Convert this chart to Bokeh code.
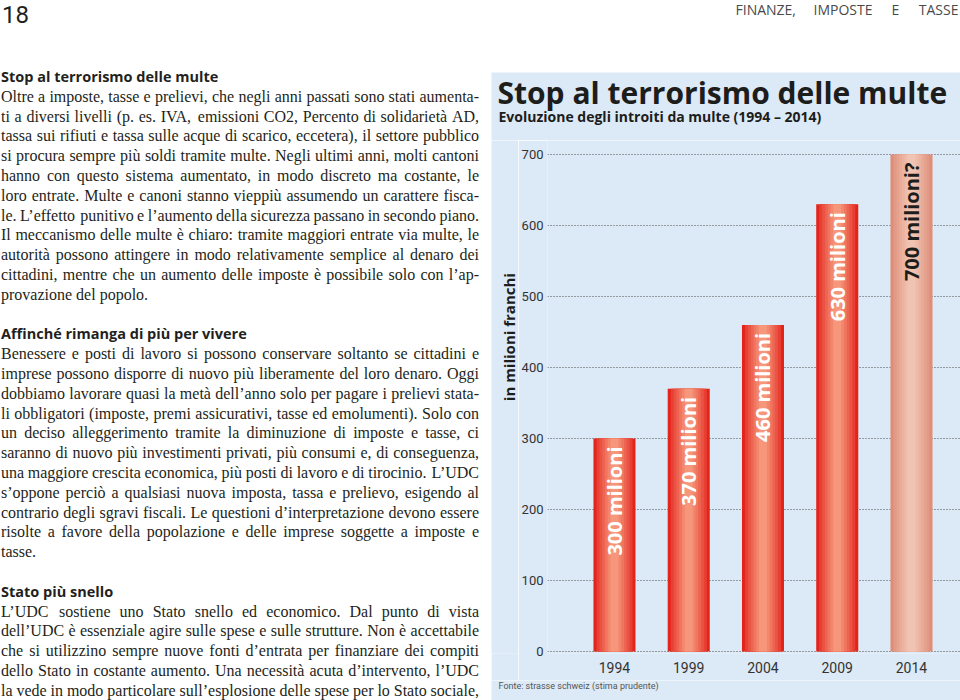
import math
from bokeh.plotting import figure
from bokeh.models import ColumnDataSource, Range1d, FixedTicker
from bokeh.layouts import row, column
from bokeh.core.properties import value
from bokeh.embed import file_html
from bokeh.resources import INLINE

# ---------------- chart data ----------------
years = [1994, 1999, 2004, 2009, 2014]
year_labels = ["1994", "1999", "2004", "2009", "2014"]
values = [300, 370, 460, 630, 700]
projected = [False, False, False, False, True]
bar_labels = ["300 milioni", "370 milioni", "460 milioni", "630 milioni", "700 milioni?"]
y_ticks = [0, 100, 200, 300, 400, 500, 600, 700]

chart_title = "Stop al terrorismo delle multe"
chart_subtitle = "Evoluzione degli introiti da multe (1994 – 2014)"
y_axis_label = "in milioni franchi"
source_note = "Fonte: strasse schweiz (stima prudente)"

page_number = "18"
section_words = ["FINANZE,", "IMPOSTE", "E", "TASSE"]

# ---------------- article text ----------------
sections = [
    ("Stop al terrorismo delle multe", [
        "Oltre a imposte, tasse e prelievi, che negli anni passati sono stati aumenta-",
        "ti a diversi livelli (p. es. IVA, emissioni CO2, Percento di solidarietà AD,",
        "tassa sui rifiuti e tassa sulle acque di scarico, eccetera), il settore pubblico",
        "si procura sempre più soldi tramite multe. Negli ultimi anni, molti cantoni",
        "hanno con questo sistema aumentato, in modo discreto ma costante, le",
        "loro entrate. Multe e canoni stanno vieppiù assumendo un carattere fisca-",
        "le. L’effetto punitivo e l’aumento della sicurezza passano in secondo piano.",
        "Il meccanismo delle multe è chiaro: tramite maggiori entrate via multe, le",
        "autorità possono attingere in modo relativamente semplice al denaro dei",
        "cittadini, mentre che un aumento delle imposte è possibile solo con l’ap-",
        "provazione del popolo.",
    ], True),
    ("Affinché rimanga di più per vivere", [
        "Benessere e posti di lavoro si possono conservare soltanto se cittadini e",
        "imprese possono disporre di nuovo più liberamente del loro denaro. Oggi",
        "dobbiamo lavorare quasi la metà dell’anno solo per pagare i prelievi stata-",
        "li obbligatori (imposte, premi assicurativi, tasse ed emolumenti). Solo con",
        "un deciso alleggerimento tramite la diminuzione di imposte e tasse, ci",
        "saranno di nuovo più investimenti privati, più consumi e, di conseguenza,",
        "una maggiore crescita economica, più posti di lavoro e di tirocinio. L’UDC",
        "s’oppone perciò a qualsiasi nuova imposta, tassa e prelievo, esigendo al",
        "contrario degli sgravi fiscali. Le questioni d’interpretazione devono essere",
        "risolte a favore della popolazione e delle imprese soggette a imposte e",
        "tasse.",
    ], True),
    ("Stato più snello", [
        "L’UDC sostiene uno Stato snello ed economico. Dal punto di vista",
        "dell’UDC è essenziale agire sulle spese e sulle strutture. Non è accettabile",
        "che si utilizzino sempre nuove fonti d’entrata per finanziare dei compiti",
        "dello Stato in costante aumento. Una necessità acuta d’intervento, l’UDC",
        "la vede in modo particolare sull’esplosione delle spese per lo Stato sociale,",
    ], False),
]

# ---------------- styles ----------------
BG = "#dce9f6"
INK = "#231f20"
DARK = "#1d1d1b"
SANS = "Open Sans"
NARROW = "Roboto"
SERIF = "Liberation Serif"

# Times-compatible advance widths (1/1000 em) used for justification
TW = {' ': 250, '.': 250, ',': 250, ':': 278, ';': 278, '-': 333, '(': 333, ')': 333,
      '’': 333, "'": 180, '?': 444, '!': 333}
TW.update(dict(zip("abcdefghijklmnopqrstuvwxyz",
                   [444, 500, 444, 500, 444, 333, 500, 500, 278, 278, 500, 278, 778,
                    500, 500, 500, 500, 333, 389, 278, 500, 500, 722, 500, 500, 444])))
TW.update(dict(zip("ABCDEFGHIJKLMNOPQRSTUVWXYZ",
                   [722, 667, 667, 722, 611, 556, 722, 722, 333, 389, 722, 611, 889,
                    722, 722, 556, 722, 667, 556, 611, 722, 722, 944, 722, 722, 611])))
TW.update({d: 500 for d in "0123456789"})
TW.update({'à': 444, 'è': 444, 'é': 444, 'ì': 278, 'ò': 500, 'ù': 500})


def tw(s, fs):
    return sum(TW.get(ch, 500) for ch in s) * fs / 1000.0


FS = 16.0
COL_X = 0.5
COL_W = 478.0
LINE0 = 76.0
LEAD = 19.8


def page_fig(x0, x1, y0, y1, fill):
    f = figure(width=x1 - x0, height=y1 - y0, output_backend="svg", toolbar_location=None,
               x_range=Range1d(x0, x1), y_range=Range1d(y1, y0), title=None,
               min_border=0, x_axis_location=None, y_axis_location=None,
               outline_line_color=None, background_fill_color=fill,
               border_fill_color=fill)
    f.grid.visible = False
    return f


# ---------------- left column ----------------
left = page_fig(0, 491, 0, 700, "white")

head_x, head_y, head_t = [], [], []
lx, ly, lt = [], [], []
rx, ry, rt = [], [], []
n = 0
for head, lines, last_unjustified in sections:
    head_x.append(COL_X)
    head_y.append(LINE0 + n * LEAD)
    head_t.append(head)
    n += 1
    for i, line in enumerate(lines):
        y = LINE0 + n * LEAD
        words = line.split()
        widths = [tw(w, FS) for w in words]
        justify = not (last_unjustified and i == len(lines) - 1)
        if justify and len(words) > 1:
            gap = max((COL_W - sum(widths)) / (len(words) - 1), 1.5)
        else:
            gap = tw(" ", FS)
        x = COL_X
        for k, (w, wd) in enumerate(zip(words, widths)):
            if justify and k == len(words) - 1 and len(words) > 1:
                rx.append(COL_X + COL_W); ry.append(y); rt.append(w)
            else:
                lx.append(x); ly.append(y); lt.append(w)
            x += wd + gap
        n += 1
    n += 1  # blank line between sections

left.text(x=head_x, y=head_y, text=head_t, text_font=value(SANS), text_font_style="bold",
          text_font_size="14.5px", text_color=INK, text_baseline="alphabetic",
          text_align="left")
left.text(x=lx, y=ly, text=lt, text_font=value(SERIF), text_font_size="%.1fpx" % FS,
          text_color=INK, text_baseline="alphabetic", text_align="left")
left.text(x=rx, y=ry, text=rt, text_font=value(SERIF), text_font_size="%.1fpx" % FS,
          text_color=INK, text_baseline="alphabetic", text_align="right")
left.text(x=[1.5], y=[14], text=[page_number], text_font=value(NARROW),
          text_font_size="24px", text_color=INK, text_baseline="alphabetic")

# ---------------- running header (right) ----------------
hdr = page_fig(491, 960, 0, 72, "white")
hdr.text(x=[735, 813, 891], y=[9, 9, 9], text=section_words[:3], text_font=value(SANS),
         text_font_size="14px", text_color="#4a4a4a", text_baseline="alphabetic",
         text_align="left")
hdr.text(x=[958], y=[9], text=section_words[3:], text_font=value(SANS),
         text_font_size="14px", text_color="#4a4a4a", text_baseline="alphabetic",
         text_align="right")

# ---------------- chart title band ----------------
tband = page_fig(491, 960, 72, 140, BG)
tband.text(x=[497], y=[92], text=[chart_title], text_font=value(SANS),
           text_font_style="bold", text_font_size="30px", text_color=DARK,
           text_baseline="alphabetic")
tband.text(x=[498], y=[115.5], text=[chart_subtitle], text_font=value(SANS),
           text_font_style="bold", text_font_size="14px", text_color=DARK,
           text_baseline="alphabetic")

# ---------------- y-axis title band ----------------
yband = page_fig(491, 518, 140, 680, BG)
yband.text(x=[508], y=[347], text=[y_axis_label], angle=math.pi / 2, text_align="center",
           text_baseline="middle", text_font=value(SANS), text_font_style="bold",
           text_font_size="15px", text_color=DARK)

# ---------------- source band ----------------
sband = page_fig(491, 960, 680, 700, BG)
sband.text(x=[498], y=[685], text=[source_note], text_font=value(NARROW),
           text_font_size="9px", text_color="#555555", text_baseline="alphabetic")

# ---------------- chart ----------------
chart = figure(width=442, height=540, output_backend="svg", toolbar_location=None,
               title=None,
               x_range=Range1d(1989.49, 2017.30), y_range=Range1d(-2.8, 719.7),
               min_border_left=29, min_border_right=0, min_border_top=0,
               min_border_bottom=27, background_fill_color=BG, border_fill_color=BG,
               outline_line_color=None)

chart.xgrid.visible = False
chart.ygrid.ticker = FixedTicker(ticks=y_ticks)
chart.ygrid.grid_line_color = "#4d4d4d"
chart.ygrid.grid_line_dash = "1 2"
chart.ygrid.grid_line_width = 1

for ax in (chart.xaxis[0], chart.yaxis[0]):
    ax.axis_line_color = None
    ax.major_tick_line_color = None
    ax.minor_tick_line_color = None
    ax.major_tick_out = 0
    ax.major_tick_in = 0
    ax.minor_tick_out = 0
    ax.minor_tick_in = 0
    ax.major_label_text_font = NARROW
    ax.major_label_text_color = "#333333"
chart.yaxis[0].ticker = FixedTicker(ticks=y_ticks)
chart.yaxis[0].major_label_text_font_size = "13px"
chart.yaxis[0].major_label_standoff = 4
chart.xaxis[0].ticker = FixedTicker(ticks=years)
chart.xaxis[0].major_label_overrides = {yr: lab for yr, lab in zip(years, year_labels)}
chart.xaxis[0].major_label_text_font_size = "14px"
chart.xaxis[0].major_label_standoff = 8


def mix(c1, c2, t):
    a = [int(c1[i:i + 2], 16) for i in (1, 3, 5)]
    b = [int(c2[i:i + 2], 16) for i in (1, 3, 5)]
    return "#%02x%02x%02x" % tuple(int(round(a[j] + (b[j] - a[j]) * t)) for j in range(3))


EDGE, CENTER = "#e2241b", "#f6967b"
EDGE_P, CENTER_P = "#de8d76", "#f0c3b2"
BAR_W = 2.83
fracs = [1.0, 0.86, 0.72, 0.58, 0.45, 0.32, 0.19]

data = dict(x=years, top=values, label=bar_labels,
            label_color=[DARK if p else "white" for p in projected])
for k in range(len(fracs)):
    t = (k / (len(fracs) - 1)) ** 0.8
    data["c%d" % k] = [mix(EDGE_P, CENTER_P, t) if p else mix(EDGE, CENTER, t)
                       for p in projected]
src = ColumnDataSource(data)

for k, f in enumerate(fracs):
    chart.vbar(x="x", top="top", bottom=0, width=BAR_W * f, fill_color="c%d" % k,
               line_color=None, source=src)

chart.text(x="x", y="top", text="label", angle=math.pi / 2, text_align="right",
           text_baseline="middle", y_offset=8, text_color="label_color",
           text_font=value(SANS), text_font_style="bold", text_font_size="20px",
           source=src)

root = row(left, column(hdr, tband, row(yband, chart), sband))

open("out.html", "w").write(file_html(root, INLINE))
